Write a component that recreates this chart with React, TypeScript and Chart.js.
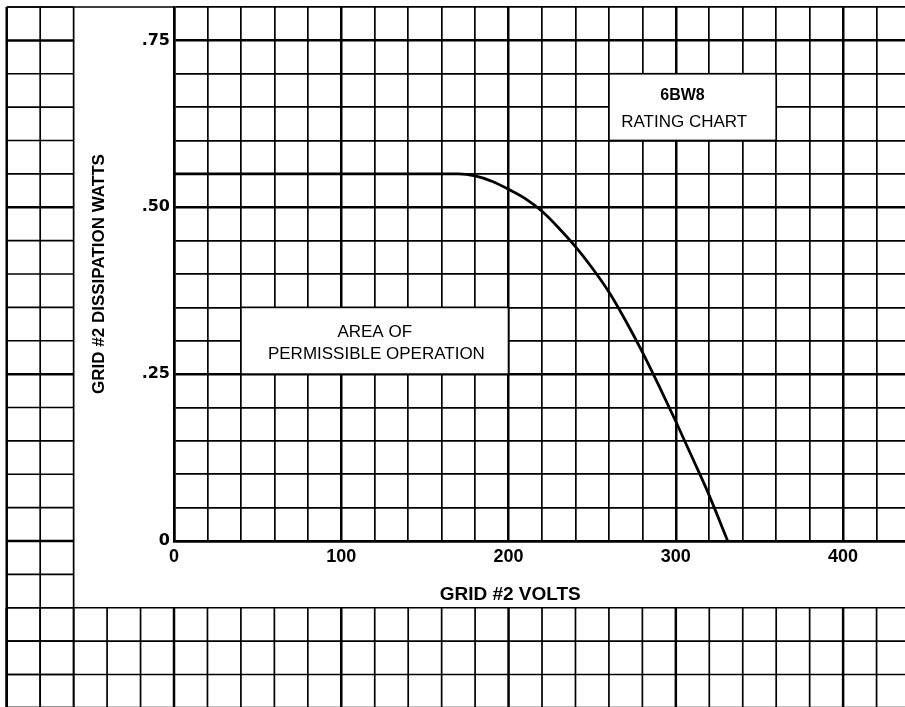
import { useEffect, useRef } from "react";
import { Chart, registerables } from "chart.js";

Chart.register(...registerables);

// Curve: grid #2 dissipation (W) against grid #2 voltage (V)
const gridVolts = [0, 170, 180, 190, 200, 210, 220, 230, 240, 250, 260, 270, 280, 290, 300, 310, 320, 331];
const gridWatts = [0.55, 0.55, 0.547, 0.539, 0.527, 0.513, 0.494, 0.469, 0.441, 0.409, 0.373, 0.33, 0.283, 0.232, 0.179, 0.124, 0.068, 0];

// Tick labels
const xTickValues = [0, 100, 200, 300, 400];
const xTickTexts = ["0", "100", "200", "300", "400"];
const yTickValues = [0, 0.25, 0.5, 0.75];
const yTickTexts = ["0", ".25", ".50", ".75"];

// Titles / annotations
const xTitle = "GRID #2 VOLTS";
const yTitle = "GRID #2 DISSIPATION WATTS";
const chartNameLines = ["6BW8", "RATING CHART"];
const areaLines = ["AREA OF", "PERMISSIBLE OPERATION"];

const FONT = "'Liberation Sans', Arial, sans-serif";
const MINOR_W = 1.7;
const MAJOR_W = 2.5;

function isMajorVolt(v: number) {
  return Math.abs(v % 100) < 1e-6;
}
function isMajorWatt(w: number) {
  const n = Math.round(w * 100);
  return n % 25 === 0;
}

const paperPlugin = {
  id: "paper",
  beforeDraw(chart: any) {
    const { ctx, scales } = chart;
    const x = scales.x;
    const y = scales.y;
    const px = (v: number) => x.getPixelForValue(v);
    const py = (v: number) => y.getPixelForValue(v);
    const line = (x1: number, y1: number, x2: number, y2: number, w: number) => {
      ctx.lineWidth = w;
      ctx.beginPath();
      ctx.moveTo(x1, y1);
      ctx.lineTo(x2, y2);
      ctx.stroke();
    };
    ctx.save();
    ctx.fillStyle = "#fff";
    ctx.fillRect(0, 0, chart.width, chart.height);
    ctx.strokeStyle = "#000";
    const bottom = chart.height + 2;
    const right = chart.width + 2;
    // left strip of graph paper
    for (let k = -5; k <= -3; k++) {
      const v = k * 20;
      line(px(v), py(0.8), px(v), bottom, isMajorVolt(v) ? MAJOR_W : MINOR_W);
    }
    for (let k = -5; k <= 16; k++) {
      const w = k * 0.05;
      line(px(-100), py(w), px(-60), py(w), isMajorWatt(w) ? MAJOR_W : MINOR_W);
    }
    // top edge across the label area
    line(px(-100), py(0.8), px(0), py(0.8), MINOR_W);
    // bottom strip of graph paper
    for (let k = -5; k <= 22; k++) {
      const v = k * 20;
      line(px(v), py(-0.1), px(v), bottom, isMajorVolt(v) ? MAJOR_W : MINOR_W);
    }
    for (let k = -5; k <= -2; k++) {
      const w = k * 0.05;
      line(px(-100), py(w), right, py(w), isMajorWatt(w) ? MAJOR_W : MINOR_W);
    }
    ctx.restore();
  },
  beforeDatasetsDraw(chart: any) {
    const { ctx, scales } = chart;
    const x = scales.x;
    const y = scales.y;
    const box = (v1: number, v2: number, w1: number, w2: number) => {
      const l = x.getPixelForValue(v1);
      const r = x.getPixelForValue(v2);
      const t = y.getPixelForValue(w2);
      const b = y.getPixelForValue(w1);
      ctx.fillStyle = "#fff";
      ctx.fillRect(l, t, r - l, b - t);
      ctx.strokeStyle = "#000";
      ctx.lineWidth = MINOR_W;
      ctx.strokeRect(l, t, r - l, b - t);
    };
    ctx.save();
    box(260, 360, 0.6, 0.7);
    box(40, 200, 0.25, 0.35);
    ctx.fillStyle = "#000";
    ctx.textAlign = "center";
    ctx.textBaseline = "alphabetic";
    ctx.font = `bold 16px ${FONT}`;
    ctx.fillText(chartNameLines[0], x.getPixelForValue(304), y.getPixelForValue(0.661));
    ctx.font = `17px ${FONT}`;
    ctx.fillText(chartNameLines[1], x.getPixelForValue(305), y.getPixelForValue(0.62));
    ctx.fillText(areaLines[0], x.getPixelForValue(120), y.getPixelForValue(0.306));
    ctx.fillText(areaLines[1], x.getPixelForValue(121), y.getPixelForValue(0.273));
    ctx.restore();
  },
  afterDraw(chart: any) {
    const { ctx, scales } = chart;
    ctx.save();
    ctx.fillStyle = "#000";
    ctx.textAlign = "center";
    ctx.textBaseline = "alphabetic";
    ctx.font = `bold 19px ${FONT}`;
    ctx.fillText(xTitle, scales.x.getPixelForValue(201), scales.y.getPixelForValue(-0.088));
    ctx.restore();
  },
};

export default function App() {
  const ref = useRef<HTMLCanvasElement | null>(null);

  useEffect(() => {
    if (!ref.current) return;
    const chart = new Chart(ref.current, {
      type: "scatter",
      data: {
        datasets: [
          {
            label: "Rating",
            data: gridVolts.map((v, i) => ({ x: v, y: gridWatts[i] })),
            showLine: true,
            borderColor: "#000",
            borderWidth: 2.8,
            pointRadius: 0,
            cubicInterpolationMode: "monotone",
            fill: false,
          },
        ],
      },
      options: {
        animation: false,
        responsive: true,
        maintainAspectRatio: false,
        layout: { padding: { top: 7, left: 0, right: 0, bottom: 0 } },
        plugins: {
          legend: { display: false },
          tooltip: { enabled: false },
        },
        scales: {
          x: {
            type: "linear",
            min: 0,
            max: 437,
            afterFit: (s: any) => {
              s.height = 166;
              s.paddingLeft = 0;
              s.paddingRight = 0;
            },
            grid: {
              color: "#000",
              drawTicks: false,
              lineWidth: (c: any) => (c.tick && isMajorVolt(c.tick.value) ? MAJOR_W : MINOR_W),
            },
            border: { color: "#000", width: MAJOR_W },
            ticks: {
              stepSize: 20,
              includeBounds: false,
              autoSkip: false,
              maxRotation: 0,
              padding: 5,
              color: "#000",
              font: { family: FONT, weight: "bold", size: 18 },
              callback: (v: any) => {
                const i = xTickValues.findIndex((t) => Math.abs(t - Number(v)) < 1e-6);
                return i >= 0 ? xTickTexts[i] : "";
              },
            },
          },
          y: {
            type: "linear",
            min: 0,
            max: 0.8,
            afterFit: (s: any) => {
              s.width = 174;
              s.paddingTop = 0;
              s.paddingBottom = 0;
            },
            grid: {
              color: "#000",
              drawTicks: false,
              lineWidth: (c: any) => (c.tick && isMajorWatt(c.tick.value) ? MAJOR_W : MINOR_W),
            },
            border: { color: "#000", width: MAJOR_W },
            title: {
              display: true,
              text: yTitle,
              color: "#000",
              font: { family: FONT, weight: "bold", size: 17 },
              padding: { top: 89, bottom: 0 },
            },
            ticks: {
              stepSize: 0.05,
              autoSkip: false,
              padding: 4,
              color: "#000",
              font: { family: "'DejaVu Sans', sans-serif", weight: "bold", size: 16 },
              callback: (v: any) => {
                const i = yTickValues.findIndex((t) => Math.abs(t - Number(v)) < 1e-6);
                return i >= 0 ? yTickTexts[i] : "";
              },
            },
          },
        },
      },
      plugins: [paperPlugin],
    });
    return () => chart.destroy();
  }, []);

  return (
    <div style={{ position: "absolute", left: 0, top: 0, width: 905, height: 707, background: "#fff" }}>
      <canvas ref={ref} />
    </div>
  );
}
